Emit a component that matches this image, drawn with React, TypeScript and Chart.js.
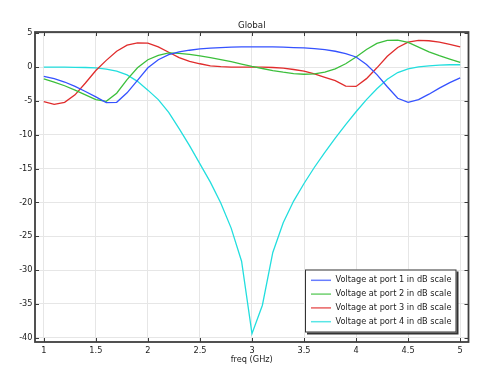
import { useEffect, useRef } from "react";
import { Chart, registerables } from "chart.js";

Chart.register(...registerables);

// Frequency samples (GHz)
const freq = [
  1.0, 1.1, 1.2, 1.3, 1.4, 1.5, 1.6, 1.7, 1.8, 1.9,
  2.0, 2.1, 2.2, 2.3, 2.4, 2.5, 2.6, 2.7, 2.8, 2.9,
  3.0, 3.1, 3.2, 3.3, 3.4, 3.5, 3.6, 3.7, 3.8, 3.9,
  4.0, 4.1, 4.2, 4.3, 4.4, 4.5, 4.6, 4.7, 4.8, 4.9, 5.0,
];

const port1 = [
  -1.35, -1.7, -2.2, -2.85, -3.6, -4.4, -5.25, -5.2, -3.8, -1.95,
  -0.1, 1.1, 1.85, 2.25, 2.5, 2.7, 2.8, 2.9, 2.95, 3.0,
  3.0, 3.0, 3.0, 2.95, 2.9, 2.85, 2.75, 2.6, 2.35, 2.0,
  1.5, 0.4, -1.1, -2.9, -4.6, -5.2, -4.8, -4.0, -3.1, -2.3, -1.6,
];

const port2 = [
  -1.75, -2.2, -2.75, -3.4, -4.1, -4.8, -5.05, -3.85, -1.85, -0.1,
  1.1, 1.75, 2.1, 2.05, 1.9, 1.65, 1.4, 1.1, 0.8, 0.45,
  0.1, -0.2, -0.5, -0.75, -0.95, -1.05, -1.0, -0.75, -0.25, 0.5,
  1.5, 2.6, 3.5, 3.95, 4.0, 3.65, 2.95, 2.25, 1.7, 1.2, 0.7,
];

const port3 = [
  -5.1, -5.5, -5.2, -4.1, -2.35, -0.5, 1.0, 2.35, 3.25, 3.6,
  3.55, 3.0, 2.2, 1.4, 0.85, 0.5, 0.2, 0.07, 0.0, 0.0,
  0.0, 0.0, -0.05, -0.15, -0.35, -0.6, -1.0, -1.5, -2.0, -2.8,
  -2.85, -1.7, -0.1, 1.6, 2.9, 3.7, 3.95, 3.9, 3.7, 3.35, 3.0,
];

const port4 = [
  0.0, 0.0, 0.0, -0.02, -0.05, -0.1, -0.3, -0.6, -1.15, -2.1,
  -3.4, -4.8, -6.7, -9.1, -11.6, -14.3, -17.0, -20.1, -23.8, -28.7,
  -39.4, -35.2, -27.4, -23.0, -19.8, -17.2, -14.8, -12.6, -10.5, -8.5,
  -6.6, -4.8, -3.2, -1.8, -0.8, -0.25, 0.05, 0.2, 0.3, 0.35, 0.35,
];

const xTicks = [1, 1.5, 2, 2.5, 3, 3.5, 4, 4.5, 5];
const yTicks = [5, 0, -5, -10, -15, -20, -25, -30, -35, -40];

const seriesLabels = [
  "Voltage at port 1 in dB scale",
  "Voltage at port 2 in dB scale",
  "Voltage at port 3 in dB scale",
  "Voltage at port 4 in dB scale",
];
const seriesColors = ["#3552ff", "#3cbf3c", "#e02c2c", "#22dede"];

const FONT = "'DejaVu Sans', sans-serif";
const TEXT = "#1c1c1c";

export default function App() {
  const ref = useRef<HTMLCanvasElement>(null);

  useEffect(() => {
    if (!ref.current) return;
    const series = [port1, port2, port3, port4];

    const framePlugin = {
      id: "frame",
      afterDraw(chart: any) {
        const { ctx, chartArea: a, scales } = chart;
        const xs = scales.x;
        const ys = scales.y;
        ctx.save();
        // inward tick marks on all four sides
        ctx.strokeStyle = "#3a3a3a";
        ctx.lineWidth = 1;
        const tl = 4;
        ctx.beginPath();
        xTicks.forEach((v) => {
          const px = Math.round(xs.getPixelForValue(v)) + 0.5;
          ctx.moveTo(px, a.top);
          ctx.lineTo(px, a.top + tl);
          ctx.moveTo(px, a.bottom);
          ctx.lineTo(px, a.bottom - tl);
        });
        yTicks.forEach((v) => {
          const py = Math.round(ys.getPixelForValue(v)) + 0.5;
          ctx.moveTo(a.left, py);
          ctx.lineTo(a.left + tl, py);
          ctx.moveTo(a.right, py);
          ctx.lineTo(a.right - tl, py);
        });
        ctx.stroke();
        // frame
        ctx.lineWidth = 1.8;
        ctx.strokeStyle = "#3f3f3f";
        ctx.strokeRect(a.left, a.top, a.right - a.left, a.bottom - a.top);

        // legend box
        const bw = 151.5;
        const bh = 63;
        const bx = a.right - 12 - bw;
        const by = a.bottom - 9.5 - bh;
        ctx.fillStyle = "#333";
        ctx.fillRect(bx + 2, by + 2, bw, bh);
        ctx.fillStyle = "#fff";
        ctx.fillRect(bx, by, bw, bh);
        ctx.lineWidth = 1;
        ctx.strokeStyle = "#333";
        ctx.strokeRect(bx + 0.5, by + 0.5, bw - 1, bh - 1);
        ctx.font = `8.2px ${FONT}`;
        ctx.textBaseline = "middle";
        ctx.textAlign = "left";
        seriesLabels.forEach((lab, i) => {
          const ry = by + 10.8 + i * 13.8;
          ctx.strokeStyle = seriesColors[i];
          ctx.globalAlpha = 0.75;
          ctx.lineWidth = 1.5;
          ctx.beginPath();
          ctx.moveTo(bx + 6, ry);
          ctx.lineTo(bx + 26, ry);
          ctx.stroke();
          ctx.globalAlpha = 1;
          ctx.fillStyle = TEXT;
          ctx.fillText(lab, bx + 30.5, ry);
        });
        ctx.restore();
      },
    };

    const chart = new Chart(ref.current, {
      type: "line",
      data: {
        datasets: series.map((s, i) => ({
          label: seriesLabels[i],
          data: freq.map((f, j) => ({ x: f, y: s[j] })),
          borderColor: seriesColors[i],
          backgroundColor: seriesColors[i],
          borderWidth: 1.3,
          pointRadius: 0,
          tension: 0,
          fill: false,
        })),
      },
      options: {
        responsive: false,
        animation: false,
        devicePixelRatio: 1,
        layout: { padding: { left: 0, right: 23.5, top: 0, bottom: 0 } },
        plugins: {
          legend: { display: false },
          tooltip: { enabled: false },
          title: {
            display: true,
            text: "Global",
            fullSize: false,
            color: TEXT,
            font: { family: FONT, size: 8.7, weight: "normal" },
            padding: { top: 21, bottom: 0.6 },
          },
        },
        scales: {
          x: {
            type: "linear",
            min: 0.9155,
            max: 5.08,
            afterBuildTicks: (s: any) => {
              s.ticks = xTicks.map((v) => ({ value: v }));
            },
            afterFit: (s: any) => {
              s.height = 27;
            },
            grid: { color: "#e6e6e6", lineWidth: 1, drawTicks: false },
            border: { display: false },
            ticks: {
              padding: 4,
              color: TEXT,
              maxRotation: 0,
              autoSkip: false,
              font: { family: FONT, size: 8.2 },
              callback: (v: any) => String(v),
            },
            title: {
              display: true,
              text: "freq (GHz)",
              color: TEXT,
              font: { family: FONT, size: 8.2 },
              padding: { top: 0, bottom: 4.6 },
            },
          },
          y: {
            type: "linear",
            min: -40.64,
            max: 5.19,
            afterBuildTicks: (s: any) => {
              s.ticks = yTicks.map((v) => ({ value: v }));
            },
            afterFit: (s: any) => {
              s.width = 35;
            },
            grid: { color: "#e6e6e6", lineWidth: 1, drawTicks: false },
            border: { display: false },
            ticks: {
              padding: 2.5,
              color: TEXT,
              autoSkip: false,
              font: { family: FONT, size: 8.2 },
              callback: (v: any) => String(v),
            },
          },
        },
      },
      plugins: [framePlugin],
    });
    return () => chart.destroy();
  }, []);

  return (
    <div style={{ position: "absolute", left: 0, top: 0, width: 492, height: 369 }}>
      <canvas ref={ref} width={492} height={369} />
    </div>
  );
}
